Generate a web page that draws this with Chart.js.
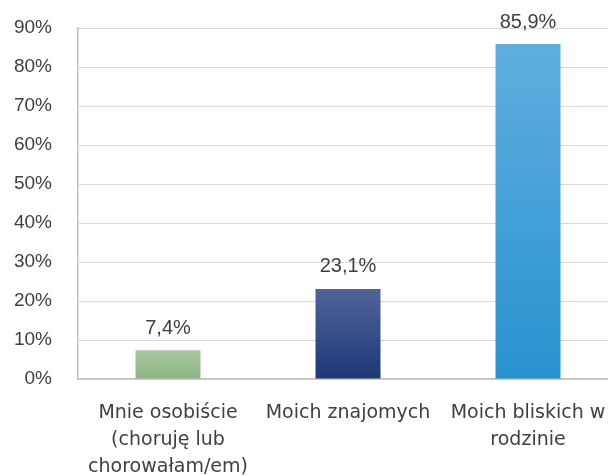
<!DOCTYPE html>
<html>
<head>
<meta charset="utf-8">
<script src="https://cdn.jsdelivr.net/npm/chart.js@4/dist/chart.umd.min.js"></script>
<style>
  html, body { margin: 0; padding: 0; background: #fff; overflow: hidden; }
  #wrap { width: 618px; height: 475px; position: relative; }
</style>
</head>
<body>
<div id="wrap"><canvas id="my-chart"></canvas></div>
<script>
'use strict';

let categories = [
  ['Mnie osobiście', '(choruję lub', 'chorowałam/em)'],
  'Moich znajomych',
  ['Moich bliskich w', 'rodzinie']
];
let values = [7.4, 23.1, 85.9];
let valueLabels = ['7,4%', '23,1%', '85,9%'];
let topColors = ['#a9c7a1', '#52639a', '#60aee0'];
let bottomColors = ['#8cb482', '#1c3876', '#2892cf'];

let canvasElem = document.getElementById('my-chart');

function barGradient(ctx) {
  let chart = ctx.chart;
  let yScale = chart.scales.y;
  let i = ctx.dataIndex;
  if (!chart.chartArea || !yScale || i === undefined) return bottomColors[i || 0];
  let top = yScale.getPixelForValue(values[i]);
  let base = yScale.getPixelForValue(0);
  if (!isFinite(top) || !isFinite(base)) return bottomColors[i];
  let g = chart.ctx.createLinearGradient(0, top, 0, base);
  g.addColorStop(0, topColors[i]);
  g.addColorStop(1, bottomColors[i]);
  return g;
}

let valueLabelPlugin = {
  id: 'valueLabels',
  afterDatasetsDraw(chart) {
    let ctx = chart.ctx;
    let meta = chart.getDatasetMeta(0);
    ctx.save();
    ctx.font = '20px "Liberation Sans", Arial, sans-serif';
    ctx.fillStyle = '#404040';
    ctx.textAlign = 'center';
    ctx.textBaseline = 'middle';
    meta.data.forEach(function (bar, i) {
      ctx.fillText(valueLabels[i], bar.x, bar.y - 22);
    });
    ctx.restore();
  }
};

let chartObj = {
  type: 'bar',
  data: {
    labels: categories,
    datasets: [{
      data: values,
      backgroundColor: barGradient,
      borderWidth: 0,
      barPercentage: 1,
      categoryPercentage: 0.361
    }]
  },
  options: {
    responsive: true,
    maintainAspectRatio: false,
    animation: false,
    layout: { padding: { top: 28, left: 0, right: 0, bottom: 0 } },
    plugins: {
      legend: { display: false },
      tooltip: { enabled: false }
    },
    scales: {
      x: {
        grid: { display: false, drawTicks: false },
        border: { color: '#bfbfbf', width: 1.5 },
        ticks: {
          color: '#404040',
          padding: 21,
          maxRotation: 0,
          autoSkip: false,
          font: { family: '"DejaVu Sans", sans-serif', size: 19, lineHeight: 1.42 }
        },
        afterFit(scale) {
          scale.height = 96;
          scale.paddingLeft = 0;
          scale.paddingRight = 0;
        }
      },
      y: {
        min: 0,
        max: 90,
        grid: { color: '#d9d9d9', drawTicks: false },
        border: { color: '#c0c0c0', width: 1.5 },
        ticks: {
          stepSize: 10,
          color: '#404040',
          padding: 26,
          font: { family: '"Liberation Sans", Arial, sans-serif', size: 19 },
          callback: function (v) { return v + '%'; }
        },
        afterFit(scale) {
          scale.width = 78;
          // tick padding is otherwise added above the chart area
          scale.paddingTop = 0;
          scale.paddingBottom = 0;
        }
      }
    }
  },
  plugins: [valueLabelPlugin]
};

new Chart(canvasElem, chartObj);
</script>
</body>
</html>
